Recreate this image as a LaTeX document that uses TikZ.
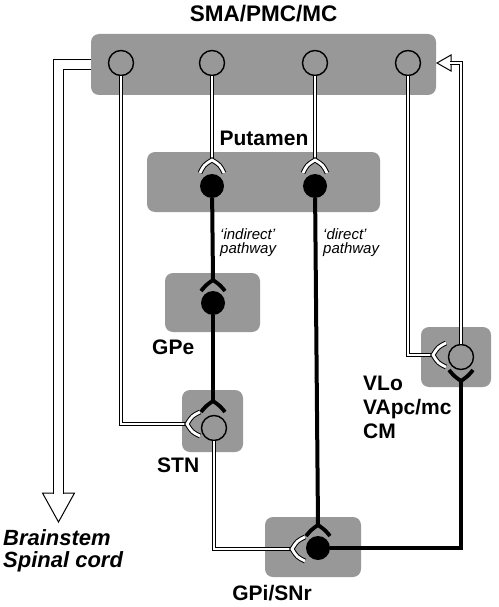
\documentclass[tikz,border=0pt]{standalone}
\usepackage{fontspec}
\setmainfont{Liberation Sans}
\usepackage{xcolor}
\usepackage{tikz}
\usetikzlibrary{calc,positioning}
\definecolor{nucleus}{HTML}{989898}
\definecolor{ink}{HTML}{000000}
\tikzset{
  nucleus/.style={fill=nucleus,rounded corners=8pt,inner sep=0pt},
  cell/.style={circle,draw=ink,line width=1.4pt,fill=nucleus,minimum size=25pt,inner sep=0pt},
  cellinh/.style={circle,fill=ink,minimum size=24pt,inner sep=0pt},
  excit/.style={draw=ink,line width=1pt,double=white,double distance=2.8pt},
  bigexcit/.style={draw=ink,line width=1pt,double=white,double distance=9pt},
  inhib/.style={draw=ink,line width=4pt},
  head/.style={draw=ink,fill=white,line width=1pt,line join=miter},
  lab/.style={font=\fontsize{21}{24}\selectfont\bfseries,inner sep=0pt},
  pathlab/.style={font=\fontsize{15}{14}\selectfont\itshape,align=left,inner sep=0pt},
  exfork/.pic={\draw[excit,line join=miter] (13,12) .. controls (5,8) .. (0,0) .. controls (5,-8) .. (13,-12);},
  infork/.pic={\draw[draw=ink,line width=3.8pt,line join=miter] (11,12) .. controls (5,7) .. (0,0) .. controls (5,-7) .. (11,-12);}
}
\begin{document}
\begin{tikzpicture}[x=1pt,y=1pt]
  \useasboundingbox (0,0) rectangle (498,-607);
  % nuclei
  \node[nucleus,minimum width=345pt,minimum height=61pt] (cortex) at (263.5,-64.5) {};
  \node[nucleus,minimum width=233pt,minimum height=60pt] (putamen) at (263.5,-182) {};
  \node[nucleus,minimum width=95pt,minimum height=59pt] (gpe) at (212.5,-302.5) {};
  \node[nucleus,minimum width=61pt,minimum height=62pt] (stn) at (212.5,-421) {};
  \node[nucleus,minimum width=96pt,minimum height=60pt] (gpi) at (313,-547) {};
  \node[nucleus,minimum width=70pt,minimum height=60pt] (thal) at (456,-357) {};
  % labels
  \node[lab,above=12pt of cortex,font=\fontsize{22.5}{24}\selectfont\bfseries] (smalab) {SMA/PMC/MC};
  \node[lab,anchor=base] (putlab) at (264,-145) {Putamen};
  \node[lab,anchor=north west] (gpelab) at (152,-340) {GPe};
  \node[lab,anchor=north west] (stnlab) at (157,-458) {STN};
  \node[lab,anchor=north] (gpilab) at (272,-585) {GPi/SNr};
  \node[lab,anchor=north west,align=left,font=\fontsize{21}{24}\selectfont\bfseries] (thallab) at (363,-376) {VLo\\VApc/mc\\CM};
  \node[lab,anchor=north west,align=left,font=\fontsize{22}{22}\selectfont\bfseries\itshape] (bslab) at (3,-529) {Brainstem\\Spinal cord};
  \node[pathlab,anchor=north west] (indlab) at (220,-228) {`indirect'\\pathway};
  \node[pathlab,anchor=north west] (dirlab) at (323,-228) {`direct'\\pathway};
  % cells
  \foreach \n/\x in {c1/121,c2/212,c3/315,c4/408}
    \node[cell] (\n) at (\x,-63) {};
  \node[cellinh] (pu1) at (212,-186) {};
  \node[cellinh] (pu2) at (315,-186) {};
  \node[cellinh] (gpecell) at (213,-303) {};
  \node[cell] (stncell) at (214,-428) {};
  \node[cellinh] (gpicell) at (318,-548) {};
  \node[cell] (thcell) at (461,-357) {};
  % synapse points
  \coordinate (pu1in) at (212,-160);
  \coordinate (pu2in) at (315,-160);
  \coordinate (gpein) at (213,-280);
  \coordinate (stntop) at (213,-401);
  \coordinate (stnin) at (187,-424);
  \coordinate (gpitop) at (318,-525);
  \coordinate (gpiin) at (292,-549);
  \coordinate (thin) at (433,-355);
  \coordinate (thbot) at (461,-381);
  \coordinate (ctxin) at (437,-63);
  \coordinate (bstip) at (58.5,-522);
  % excitatory (double) axons
  \draw[excit] (c2.south) -- (pu1in);
  \draw[excit] (c3.south) -- (pu2in);
  \draw[excit] (c1.south) |- (stnin);
  \draw[excit] (c4.south) |- (thin);
  \draw[excit] (stncell.south) |- (gpiin);
  \draw[head] (ctxin) -- ++(14,8) -- ++(0,-16) -- cycle;
  \draw[excit] (thcell.north) |- ($(ctxin)+(13,0)$);
  \draw[head] (bstip) -- ++(-16,29) -- ++(32,0) -- cycle;
  \draw[bigexcit] (cortex.west) -| ($(bstip)+(0,28)$);
  \pic[rotate=-90] at (pu1in) {exfork};
  \pic[rotate=-90] at (pu2in) {exfork};
  \pic at (stnin) {exfork};
  \pic at (gpiin) {exfork};
  \pic at (thin) {exfork};
  % inhibitory (black) axons
  \draw[inhib] (pu1) -- (gpein);
  \draw[inhib] (gpecell) -- (stntop);
  \draw[inhib] (pu2) -- (gpitop);
  \draw[inhib] (gpicell) -| (thbot);
  \pic[rotate=-90] at (gpein) {infork};
  \pic[rotate=-90] at (stntop) {infork};
  \pic[rotate=-90] at (gpitop) {infork};
  \pic[rotate=90] at (thbot) {infork};
\end{tikzpicture}
\end{document}
